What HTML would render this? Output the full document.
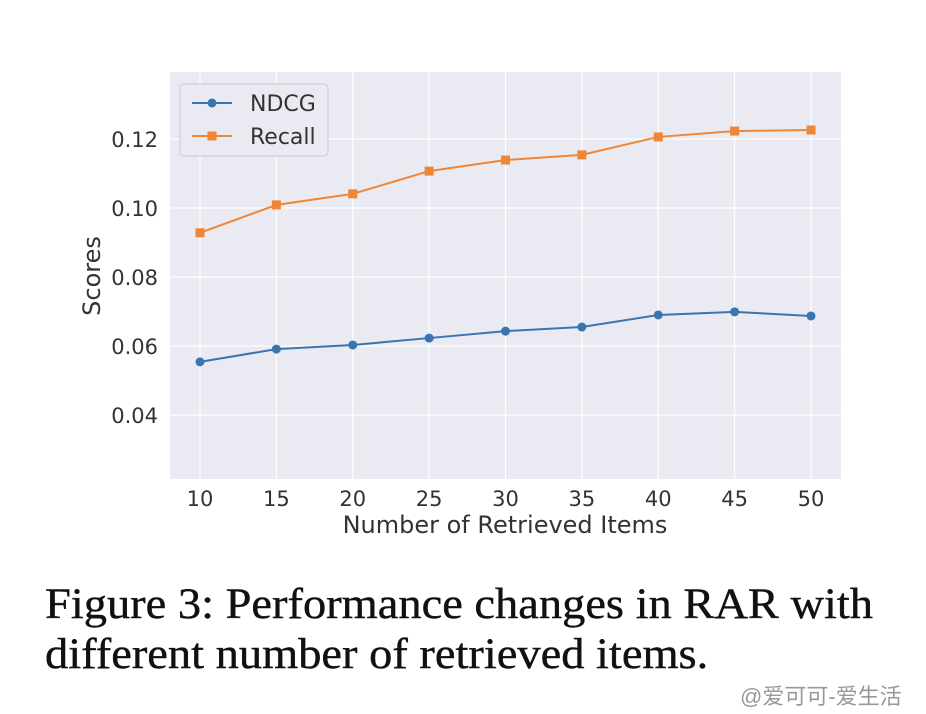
<!DOCTYPE html>
<html><head><meta charset="utf-8"><style>
html,body{margin:0;padding:0;background:#fff;}
body{width:926px;height:714px;overflow:hidden;position:relative;}
svg text{font-family:"DejaVu Sans","Liberation Sans",sans-serif;}
.cap{position:absolute;left:45px;top:580px;font-family:"Liberation Serif",serif;font-size:43px;line-height:50px;color:#111;transform:scaleX(1.08);transform-origin:0 0;white-space:nowrap;-webkit-text-stroke:0.4px #111;}
.wm{position:absolute;left:740px;top:679px;font-family:"Liberation Sans","Noto Sans CJK SC",sans-serif;font-size:22px;color:#999;white-space:nowrap;}
</style></head><body>
<svg id="chart" width="926" height="580" style="position:absolute;left:0;top:0">
<rect x="170" y="72" width="671" height="407" fill="#eaeaf2"/>
<g id="grid"></g><g id="ticks"></g><g id="series"></g>
<text x="505" y="533" font-size="24" fill="#333" text-anchor="middle">Number of Retrieved Items</text>
<text transform="translate(100,276) rotate(-90)" font-size="24" fill="#333" text-anchor="middle">Scores</text>
<g>
<rect x="180" y="84" width="148" height="72" rx="4" fill="#eaeaf2" stroke="#ccc"/>
<line x1="192" y1="103" x2="232" y2="103" stroke="#3b75af" stroke-width="2"/><circle cx="212" cy="103" r="4.5" fill="#3b75af"/>
<text x="250" y="111" font-size="22" fill="#333">NDCG</text>
<line x1="192" y1="136" x2="232" y2="136" stroke="#ef8636" stroke-width="2"/><rect x="207.5" y="131.5" width="9" height="9" fill="#ef8636"/>
<text x="250" y="144" font-size="22" fill="#333">Recall</text>
</g>
</svg>
<div class="cap">Figure 3: Performance changes in RAR with<br>different number of retrieved items.</div>
<div class="wm">@爱可可-爱生活</div>
<script>
const categories=[10,15,20,25,30,35,40,45,50];
const ndcg=[0.0554,0.0591,0.0603,0.0623,0.0643,0.0655,0.0690,0.0699,0.0687];
const recall=[0.0928,0.1009,0.1041,0.1107,0.1139,0.1154,0.1206,0.1223,0.1226];
const yTicks=[0.04,0.06,0.08,0.10,0.12];
const yTickLabels=["0.04","0.06","0.08","0.10","0.12"];
const NS="http://www.w3.org/2000/svg";
function xs(v){return 200+(v-10)*(611/40);}
function ys(v){return 346-(v-0.06)*(69/0.02);}
function mk(t,a,p){const e=document.createElementNS(NS,t);for(const k in a)e.setAttribute(k,a[k]);p.appendChild(e);return e;}
const grid=document.getElementById('grid'),ticks=document.getElementById('ticks'),ser=document.getElementById('series');
categories.forEach(c=>{
 const l=mk('line',{x1:xs(c),x2:xs(c),y1:72,y2:479,stroke:'#fff','stroke-width':1.2},grid);
 
 
 const t=mk('text',{x:xs(c),y:506,'font-size':21,fill:'#333','text-anchor':'middle'},ticks);t.textContent=c;
 
 
});
yTicks.forEach((v,i)=>{
 const l=mk('line',{x1:170,x2:841,y1:ys(v),y2:ys(v),stroke:'#fff','stroke-width':1.2},grid);
 
 
 const t=mk('text',{x:158,y:ys(v)+8,'font-size':21,fill:'#333','text-anchor':'end'},ticks);t.textContent=yTickLabels[i];
 
 
});
function draw(vals,color,name,square){
 const p=mk('polyline',{points:vals.map((v,i)=>xs(categories[i])+','+ys(v)).join(' '),fill:'none',stroke:color,'stroke-width':2},ser);
 
 
 vals.forEach((v,i)=>{
  const m=square?mk('rect',{x:xs(categories[i])-4.5,y:ys(v)-4.5,width:9,height:9,fill:color},ser):mk('circle',{cx:xs(categories[i]),cy:ys(v),r:4.5,fill:color},ser);
  
  
 });
}
draw(ndcg,'#3b75af','ndcg',false);
draw(recall,'#ef8636','recall',true);
</script>
</body></html>
